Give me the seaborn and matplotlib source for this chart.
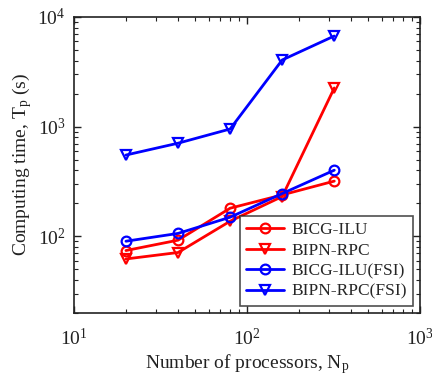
import numpy as np
import pandas as pd
import matplotlib
matplotlib.use("Agg")
import matplotlib.pyplot as plt
import seaborn as sns
from matplotlib.ticker import LogLocator, NullFormatter

processors = [20, 40, 80, 160, 320]
bicg_ilu = [74, 92, 180, 238, 318]
bipn_rpc = [62, 71, 137, 230, 2250]
bicg_ilu_fsi = [90, 106, 149, 245, 400]
bipn_rpc_fsi = [550, 705, 950, 4050, 6700]
series_names = ["BICG-ILU", "BIPN-RPC", "BICG-ILU(FSI)", "BIPN-RPC(FSI)"]

rows = []
for name, vals in zip(series_names, [bicg_ilu, bipn_rpc, bicg_ilu_fsi, bipn_rpc_fsi]):
    for x, y in zip(processors, vals):
        rows.append({"Np": x, "T": y, "Method": name})
df = pd.DataFrame(rows)

sns.set_style("ticks")
plt.rcParams["font.family"] = ["Liberation Serif", "DejaVu Serif"]
plt.rcParams["mathtext.fontset"] = "custom"
plt.rcParams["mathtext.rm"] = "Liberation Serif"
plt.rcParams["mathtext.it"] = "Liberation Serif"

fig = plt.figure(figsize=(4.32, 3.76), dpi=100)
ax = fig.add_axes([0.171, 0.168, 0.801, 0.787])

palette = {"BICG-ILU": "#ff0000", "BIPN-RPC": "#ff0000",
           "BICG-ILU(FSI)": "#0000ff", "BIPN-RPC(FSI)": "#0000ff"}
markers = {"BICG-ILU": "o", "BIPN-RPC": "v", "BICG-ILU(FSI)": "o", "BIPN-RPC(FSI)": "v"}

sns.lineplot(data=df, x="Np", y="T", hue="Method", style="Method",
             hue_order=series_names, style_order=series_names,
             palette=palette, markers=markers, dashes=False,
             linewidth=2, markersize=7, markerfacecolor="none",
             markeredgewidth=1.6, ax=ax)
for line in ax.lines:
    line.set_markerfacecolor("none")
    line.set_markeredgecolor(line.get_color())

ax.set_xscale("log")
ax.set_yscale("log")
ax.set_xlim(10, 1000)
ax.set_ylim(20, 1e4)

for sp in ax.spines.values():
    sp.set_visible(True)
    sp.set_linewidth(1.2)
    sp.set_color("#222222")
ax.tick_params(which="both", direction="in", top=True, right=True, labelsize=14, colors="#222222")
ax.tick_params(which="major", length=5, width=1)
ax.tick_params(which="minor", length=3, width=0.8)
ax.xaxis.set_minor_locator(LogLocator(base=10, subs=np.arange(2, 10)))
ax.yaxis.set_minor_locator(LogLocator(base=10, subs=np.arange(2, 10)))
ax.xaxis.set_minor_formatter(NullFormatter())
ax.yaxis.set_minor_formatter(NullFormatter())
ax.tick_params(axis="x", pad=11)
ax.tick_params(axis="y", pad=6)

ax.set_xlabel(r"Number of processors, N$_\mathregular{p}$", fontsize=14, color="#222222", labelpad=2)
ax.set_ylabel(r"Computing time, T$_\mathregular{p}$ (s)", fontsize=14, color="#222222", labelpad=2)

leg = ax.legend(loc="lower right", fontsize=12.5, frameon=True, fancybox=False,
                edgecolor="#222222", handlelength=2.2, borderpad=0.35,
                labelspacing=0.25, handletextpad=0.4, borderaxespad=0.4)
leg.get_frame().set_linewidth(1.2)
for h in leg.legend_handles:
    h.set_markerfacecolor("none")
    h.set_markeredgecolor(h.get_color())

fig.savefig("out.png", dpi=100)
